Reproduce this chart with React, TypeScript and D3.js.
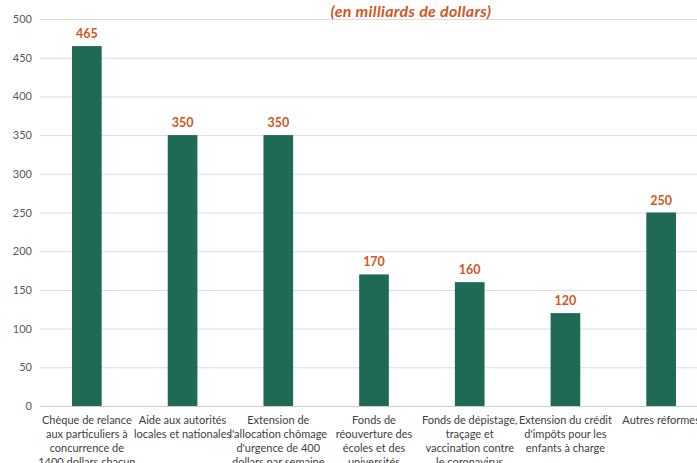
import React from "react";
import * as d3 from "d3";

const categories = [
  "Chèque de relance\naux particuliers à\nconcurrence de\n1400 dollars chacun",
  "Aide aux autorités\nlocales et nationales",
  "Extension de\nl'allocation chômage\nd'urgence de 400\ndollars par semaine",
  "Fonds de\nréouverture des\nécoles et des\nuniversités",
  "Fonds de dépistage,\ntraçage et\nvaccination contre\nle coronavirus",
  "Extension du crédit\nd'impôts pour les\nenfants à charge",
  "Autres réformes",
];
const values = [465, 350, 350, 170, 160, 120, 250];
const yTicks = [0, 50, 100, 150, 200, 250, 300, 350, 400, 450, 500];
const subtitle = "(en milliards de dollars)";

const W = 697;
const H = 463;
const GREEN = "#1e6a55";
const ORANGE = "#d2561e";
const FONT = "Lato, 'Noto Sans', sans-serif";

export default function App() {
  const x = d3
    .scaleBand<number>()
    .domain(d3.range(categories.length))
    .range([39, 709])
    .paddingInner(0.69)
    .paddingOuter(0.345);
  const y = d3.scaleLinear().domain([0, 500]).range([406, 19]);

  return (
    <svg
      width={W}
      height={H}
      style={{ position: "absolute", left: 0, top: 0, display: "block" }}
      fontFamily={FONT}
    >
      <rect width={W} height={H} fill="#fff" />
      {yTicks.map((t) => (
        <g key={t}>
          <line
            x1={40}
            x2={W}
            y1={y(t) + 0.5}
            y2={y(t) + 0.5}
            stroke={t === 0 ? "#cfcfcf" : "#dcdcdc"}
            strokeWidth={1}
          />
          <text
            x={32}
            y={y(t) + 4}
            textAnchor="end"
            fontSize={11}
            fill="#595959"
          >
            {t}
          </text>
        </g>
      ))}
      <text
        x={411}
        y={16.5}
        textAnchor="middle"
        fontSize={16}
        fontWeight="bold"
        fontStyle="italic"
        letterSpacing={0.3}
        fill={ORANGE}
      >
        {subtitle}
      </text>
      {values.map((v, i) => {
        const bx = x(i)!;
        const cx = bx + x.bandwidth() / 2;
        return (
          <g key={i}>
            <rect
              x={bx}
              y={y(v)}
              width={x.bandwidth()}
              height={y(0) - y(v)}
              fill={GREEN}
            />
            <text
              x={cx}
              y={y(v) - 8}
              textAnchor="middle"
              fontSize={12.5}
              fontWeight="bold"
              fill={ORANGE}
            >
              {v}
            </text>
            <text
              x={cx}
              y={424}
              textAnchor="middle"
              fontSize={11}
              fill="#404040"
            >
              {categories[i].split("\n").map((line, j) => (
                <tspan key={j} x={cx} dy={j === 0 ? 0 : 14}>
                  {line}
                </tspan>
              ))}
            </text>
          </g>
        );
      })}
    </svg>
  );
}
